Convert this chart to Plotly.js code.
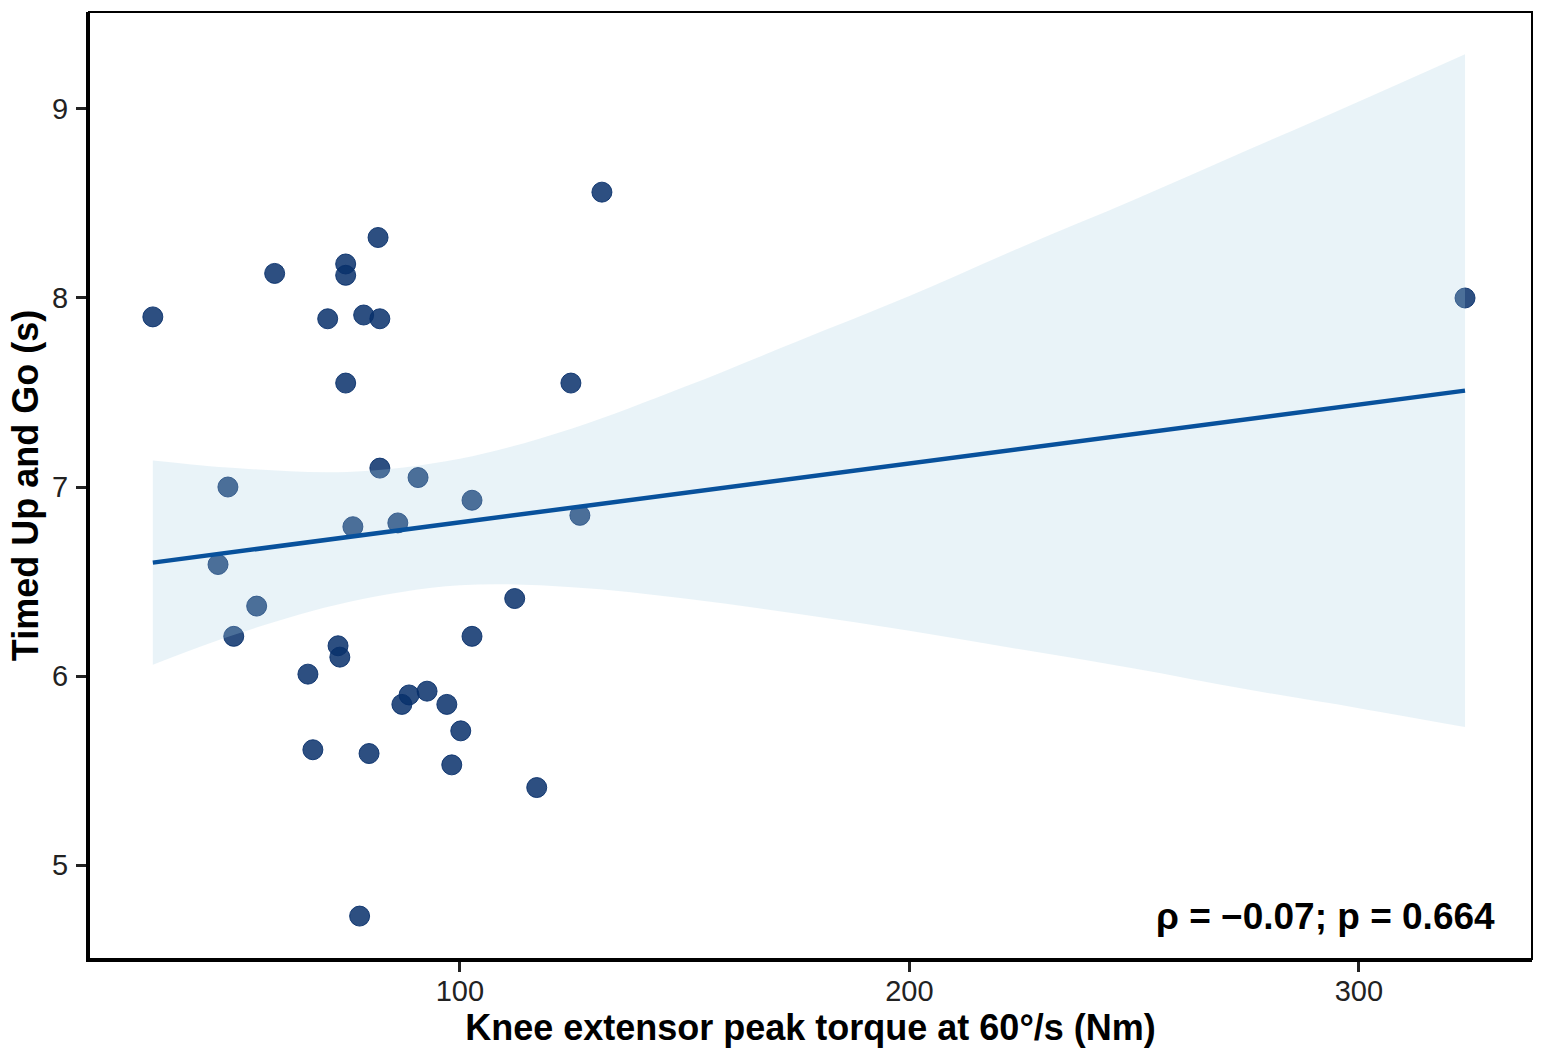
<!DOCTYPE html>
<html>
<head>
<meta charset="utf-8">
<script src="https://cdn.plot.ly/plotly-3.0.1.min.js"></script>
<style>
  body { margin: 0; background: #fff; }
  #myDiv { width: 1545px; height: 1057px; }
</style>
</head>
<body>
<div id="myDiv"></div>
<script>
// knee extensor peak torque (Nm) vs Timed Up and Go (s)
var torque = [31.7, 48.4, 46.2, 49.7, 54.8, 58.8, 66.2, 67.3, 70.6, 72.9, 73.3, 74.6, 74.6, 74.6,
  76.2, 77.7, 78.6, 79.8, 81.8, 82.2, 82.2, 86.2, 87.1, 88.7, 90.7, 92.7, 97.1, 98.2, 100.2,
  102.7, 102.7, 112.2, 117.1, 124.7, 126.7, 131.6, 323.6];
var tug = [7.90, 7.00, 6.59, 6.21, 6.37, 8.13, 6.01, 5.61, 7.89, 6.16, 6.10, 8.18, 8.12, 7.55,
  6.79, 4.73, 7.91, 5.59, 8.32, 7.89, 7.10, 6.81, 5.85, 5.90, 7.05, 5.92, 5.85, 5.53, 5.71,
  6.93, 6.21, 6.41, 5.41, 7.55, 6.85, 8.56, 8.00];

// regression line and its confidence band
var fitX = [31.7, 323.6];
var fitY = [6.60, 7.51];
var bandX = [31.7, 50, 75, 100, 125, 150, 175, 200, 225, 250, 275, 300, 323.6];
var bandLow = [6.06, 6.22, 6.39, 6.48, 6.47, 6.41, 6.33, 6.24, 6.14, 6.04, 5.93, 5.83, 5.73];
var bandHigh = [7.14, 7.10, 7.08, 7.15, 7.31, 7.53, 7.77, 8.01, 8.27, 8.52, 8.78, 9.04, 9.29];

var xTicks = [100, 200, 300];
var yTicks = [5, 6, 7, 8, 9];

var points = {
  x: torque,
  y: tug,
  mode: 'markers',
  type: 'scatter',
  marker: {size: 20, color: 'rgba(8,48,107,0.85)', line: {color: 'rgba(8,48,107,0.9)', width: 1}},
  hoverinfo: 'x+y'
};

var bandLower = {
  x: bandX,
  y: bandLow,
  type: 'scatter',
  mode: 'lines',
  line: {width: 0, shape: 'spline', smoothing: 1},
  hoverinfo: 'skip'
};

var bandUpper = {
  x: bandX,
  y: bandHigh,
  type: 'scatter',
  mode: 'lines',
  fill: 'tonexty',
  fillcolor: 'rgba(166,206,227,0.25)',
  line: {width: 0, shape: 'spline', smoothing: 1},
  hoverinfo: 'skip'
};

var fit = {
  x: fitX,
  y: fitY,
  type: 'scatter',
  mode: 'lines',
  line: {color: '#08519c', width: 4.5},
  hoverinfo: 'skip'
};

var data = [points, bandLower, bandUpper, fit];

var layout = {
  width: 1545,
  height: 1057,
  margin: {l: 89, r: 13, t: 12, b: 98},
  paper_bgcolor: '#fff',
  plot_bgcolor: '#fff',
  showlegend: false,
  font: {family: 'Liberation Sans, Arial, sans-serif', color: '#000'},
  xaxis: {
    range: [17.5, 338.5],
    tickvals: xTicks,
    ticktext: xTicks.map(String),
    showgrid: false,
    zeroline: false,
    showline: true,
    linecolor: '#000',
    linewidth: 3,
    ticks: 'outside',
    ticklen: 10,
    tickwidth: 3,
    tickcolor: '#222',
    ticklabelstandoff: -6,
    tickfont: {size: 29, color: '#222'},
    title: {text: 'Knee extensor peak torque at 60°/s (Nm)', font: {size: 36, weight: 'bold', color: '#000'}, standoff: 10}
  },
  yaxis: {
    range: [4.503, 9.513],
    tickvals: yTicks,
    ticktext: yTicks.map(String),
    showgrid: false,
    zeroline: false,
    showline: true,
    linecolor: '#000',
    linewidth: 3,
    ticks: 'outside',
    ticklen: 10,
    tickwidth: 3,
    tickcolor: '#222',
    ticklabelstandoff: 2,
    tickfont: {size: 29, color: '#222'},
    title: {text: 'Timed Up and Go (s)', font: {size: 36, weight: 'bold', color: '#000'}, standoff: 3}
  },
  shapes: [{
    type: 'rect', xref: 'paper', yref: 'paper', x0: 0, x1: 1, y0: 0, y1: 1,
    line: {color: '#000', width: 2}, fillcolor: 'rgba(0,0,0,0)'
  }],
  annotations: [{
    xref: 'paper', yref: 'paper', x: 0.9757, y: 0.0454,
    xanchor: 'right', yanchor: 'middle', showarrow: false,
    text: 'ρ = −0.07; p = 0.664',
    font: {size: 37, weight: 'bold', color: '#000'}
  }]
};

Plotly.newPlot('myDiv', data, layout, {displayModeBar: false});
</script>
</body>
</html>
